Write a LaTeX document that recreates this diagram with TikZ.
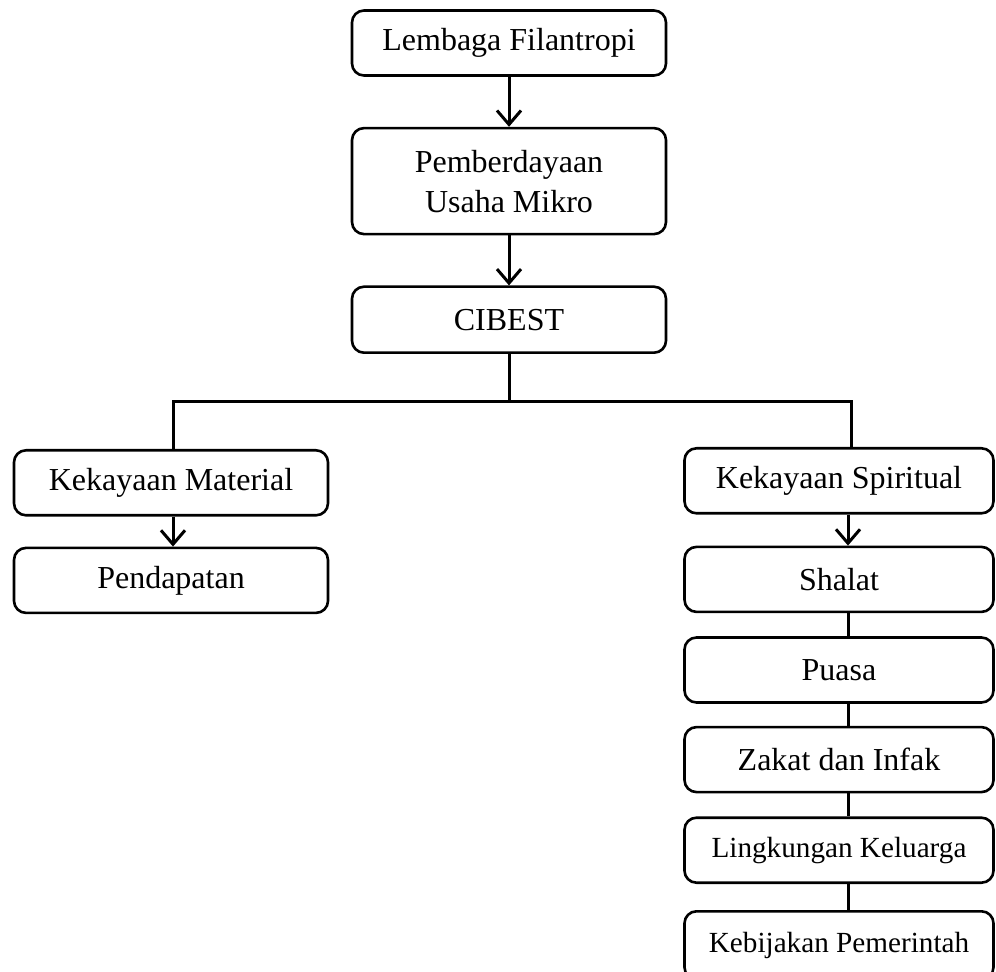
\documentclass[tikz,border=0pt]{standalone}
\usepackage{fontspec}
\setmainfont{Liberation Serif}
\usetikzlibrary{positioning,arrows.meta}

\begin{document}
\begin{tikzpicture}[
  kotak/.style = {draw, rounded corners=6pt, line width=1.3pt,
    align=center, inner sep=0pt, minimum width=157pt,
    minimum height=32.5pt, font=\fontsize{16}{20}\selectfont},
  kotakkanan/.style = {kotak, minimum width=154.5pt},
  kecil/.style = {font=\fontsize{14.6}{18}\selectfont},
  garis/.style = {line width=1.5pt},
  panah/.style = {garis, -{Straight Barb[length=7pt,width=12pt]}}]
  \useasboundingbox (0,0) rectangle (498pt,-486pt);
  \node[kotak] (lembaga) at (254.5pt,-21.5pt) {Lembaga Filantropi};
  \node[kotak, minimum height=53pt, below=25pt of lembaga] (pemberdayaan) {Pemberdayaan\\Usaha Mikro};
  \node[kotak, minimum height=33pt, below=25pt of pemberdayaan] (cibest) {CIBEST};
  \node[kotak, below=47.5pt of cibest, xshift=-169pt] (material) {Kekayaan Material};
  \node[kotak, below=15pt of material] (pendapatan) {Pendapatan};
  \node[kotakkanan, below=46.5pt of cibest, xshift=165pt] (spiritual) {Kekayaan Spiritual};
  \node[kotakkanan, below=15.5pt of spiritual] (shalat) {Shalat};
  \node[kotakkanan, below=11.5pt of shalat] (puasa) {Puasa};
  \node[kotakkanan, below=11pt of puasa] (zakat) {Zakat dan Infak};
  \node[kotakkanan, kecil, below=11.5pt of zakat] (lingkungan) {Lingkungan Keluarga};
  \node[kotakkanan, kecil, minimum height=34pt, below=13pt of lingkungan] (kebijakan) {Kebijakan Pemerintah};

  \draw[panah] (lembaga) -- (pemberdayaan);
  \draw[panah] (pemberdayaan) -- (cibest);
  \draw[garis] (cibest.south) -- ++(0,-24pt) coordinate (cabang);
  \draw[garis] ([xshift=1pt]material.north) |- (cabang) -| ([xshift=6pt]spiritual.north);
  \draw[panah] ([xshift=1pt]material.south) -- ([xshift=1pt]pendapatan.north);
  \draw[panah] ([xshift=4.5pt]spiritual.south) -- ([xshift=4.5pt]shalat.north);
  \foreach \atas/\bawah in {shalat/puasa, puasa/zakat, zakat/lingkungan, lingkungan/kebijakan}
    \draw[garis] ([xshift=4.5pt]\atas.south) -- ([xshift=4.5pt]\bawah.north);
\end{tikzpicture}
\end{document}
